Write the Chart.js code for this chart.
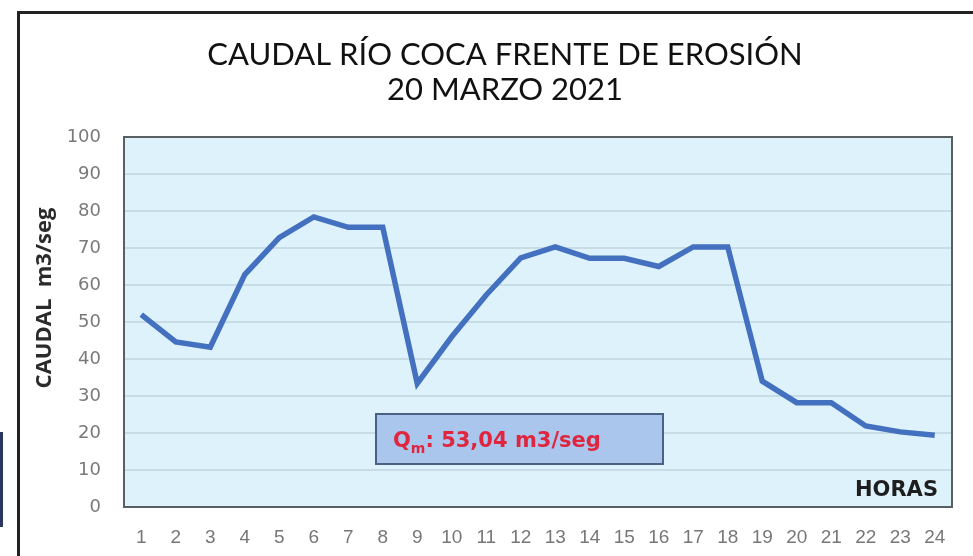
<!DOCTYPE html>
<html>
<head>
<meta charset="utf-8">
<script src="https://cdn.jsdelivr.net/npm/chart.js@4.4.1/dist/chart.umd.min.js"></script>
<style>
  html, body { margin: 0; padding: 0; background: #fff; }
  #wrap { position: relative; width: 973px; height: 556px; overflow: hidden; }
  #frame { position: absolute; left: 17px; top: 11px; width: 980px; height: 560px;
           border-top: 3px solid #222; border-left: 3px solid #222; }
  #edge { position: absolute; left: 0; top: 432px; width: 3px; height: 95px; background: #2a3560; }
  canvas { position: absolute; left: 0; top: 0; }
</style>
</head>
<body>
<div id="wrap">
  <div id="frame"></div>
  <div id="edge"></div>
  <canvas id="chart" width="973" height="556"></canvas>
</div>
<script>
// data
const horas = ['1','2','3','4','5','6','7','8','9','10','11','12','13','14','15','16','17','18','19','20','21','22','23','24']
const caudal = [52, 44.6, 43.2, 62.8, 72.8, 78.4, 75.6, 75.6, 33.4, 46, 57.3, 67.3, 70.3, 67.2, 67.2, 65, 70.3, 70.3, 34, 28.2, 28.2, 21.9, 20.3, 19.4]

const titulo = ['CAUDAL RÍO COCA FRENTE DE EROSIÓN', '20 MARZO 2021']
const tituloEjeY = 'CAUDAL  m3/seg'
const tituloEjeX = 'HORAS'
const caudalMedio = '53,04 m3/seg'

// draws the plot background, titles, the Qm box and HORAS
const extras = {
    id: 'extras',
    beforeDraw(chart) {
        const ctx = chart.ctx
        const a = chart.chartArea
        ctx.save()
        ctx.fillStyle = '#def2fc'
        ctx.fillRect(a.left, a.top, a.right - a.left, a.bottom - a.top)

        // main title, two lines
        ctx.fillStyle = '#111'
        ctx.font = '31px Lato, "Open Sans", sans-serif'
        ctx.textAlign = 'center'
        ctx.textBaseline = 'middle'
        ctx.fillText(titulo[0], 505, 55)
        ctx.fillText(titulo[1], 505, 90)
        ctx.restore()
    },
    afterDatasetsDraw(chart) {
        const ctx = chart.ctx
        const a = chart.chartArea
        ctx.save()

        // plot border
        ctx.strokeStyle = '#5a5f63'
        ctx.lineWidth = 2
        ctx.strokeRect(a.left, a.top, a.right - a.left, a.bottom - a.top)

        // y axis title
        ctx.translate(45, 298)
        ctx.rotate(-Math.PI / 2)
        ctx.fillStyle = '#2b2b2b'
        ctx.font = 'bold 22px "Open Sans", sans-serif'
        ctx.textAlign = 'center'
        ctx.textBaseline = 'middle'
        ctx.fillText(tituloEjeY, 0, 0)
        ctx.setTransform(1, 0, 0, 1, 0, 0)

        // Qm box
        const bx = a.left + 252, by = a.top + 277, bw = 287, bh = 50
        ctx.fillStyle = '#abc6ec'
        ctx.fillRect(bx, by, bw, bh)
        ctx.strokeStyle = '#4b6182'
        ctx.lineWidth = 2
        ctx.strokeRect(bx, by, bw, bh)

        ctx.fillStyle = '#e0253f'
        ctx.textAlign = 'left'
        ctx.textBaseline = 'alphabetic'
        ctx.font = 'bold 21px "DejaVu Sans", sans-serif'
        let x = bx + 17
        const base = by + 33
        ctx.fillText('Q', x, base)
        x += ctx.measureText('Q').width
        ctx.font = 'bold 14px "DejaVu Sans", sans-serif'
        ctx.fillText('m', x, base + 6)
        x += ctx.measureText('m').width
        ctx.font = 'bold 21px "DejaVu Sans", sans-serif'
        ctx.fillText(': ' + caudalMedio, x, base)

        // HORAS
        ctx.fillStyle = '#1e1e1e'
        ctx.font = 'bold 21px "DejaVu Sans", sans-serif'
        ctx.textAlign = 'right'
        ctx.fillText(tituloEjeX, a.right - 14, a.bottom - 11)

        ctx.restore()
    }
}

const ctx = document.getElementById('chart')

new Chart(ctx, {
    type: 'line',
    data: {
        labels: horas,
        datasets: [{
            data: caudal,
            borderColor: '#4470c0',
            borderWidth: 5.5,
            pointRadius: 0,
            tension: 0,
            fill: false
        }]
    },
    options: {
        responsive: false,
        animation: false,
        layout: { padding: { left: 0, right: 21, top: 137, bottom: 0 } },
        plugins: {
            legend: { display: false },
            tooltip: { enabled: false },
            title: { display: false }
        },
        scales: {
            x: {
                offset: true,
                grid: { display: false, drawTicks: false },
                border: { display: false },
                ticks: {
                    color: '#777',
                    padding: 19,
                    maxRotation: 0,
                    autoSkip: false,
                    font: { family: '"Liberation Sans", Arial, sans-serif', size: 19 }
                },
                afterFit(scale) { scale.height = 49 }
            },
            y: {
                min: 0,
                max: 100,
                grid: { color: '#c8dce6', lineWidth: 2, drawTicks: false },
                border: { display: false },
                ticks: {
                    stepSize: 10,
                    color: '#7a7a7a',
                    padding: 23,
                    font: { family: '"DejaVu Sans", sans-serif', size: 18 }
                },
                afterFit(scale) { scale.width = 124 }
            }
        }
    },
    plugins: [extras]
})
</script>
</body>
</html>
